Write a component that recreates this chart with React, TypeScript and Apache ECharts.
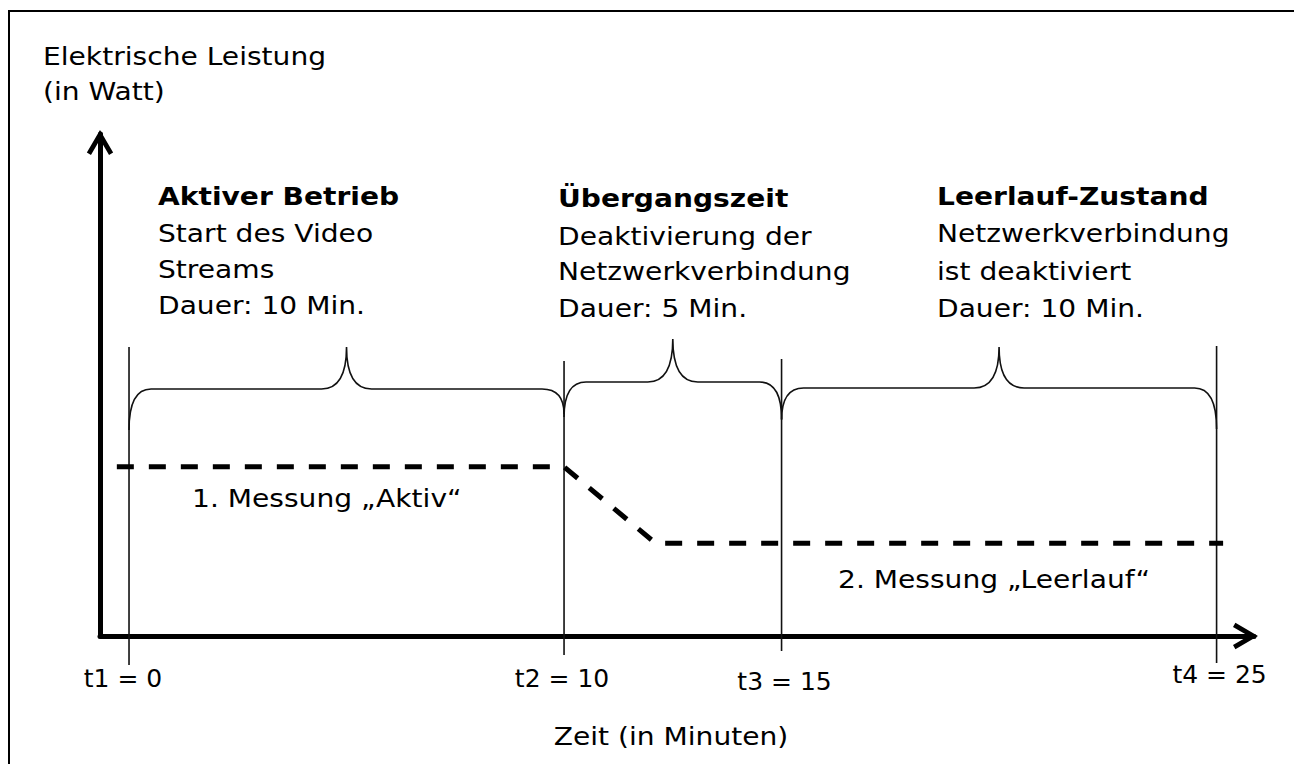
import React, { useEffect, useRef } from "react";
import * as echarts from "echarts";

// ---------- data ----------
const phaseBoundaries = [0, 10, 15, 25];
const boundaryLabels = ["t1 = 0", "t2 = 10", "t3 = 15", "t4 = 25"];
const phaseHeadings = ["Aktiver Betrieb", "Übergangszeit", "Leerlauf-Zustand"];
const phaseDescriptions = [
  ["Start des Video", "Streams", "Dauer: 10 Min."],
  ["Deaktivierung der", "Netzwerkverbindung", "Dauer: 5 Min."],
  ["Netzwerkverbindung", "ist deaktiviert", "Dauer: 10 Min."],
];
const powerTime = [-0.28, 10, 12.1, 25.15];
const powerValue = [33.7, 33.7, 18.5, 18.5];
const measurementLabels = ["1. Messung „Aktiv“", "2. Messung „Leerlauf“"];
const yAxisTitle = ["Elektrische Leistung", "(in Watt)"];
const xAxisTitle = "Zeit (in Minuten)";

// ---------- layout (pixels) ----------
const FONT = "'DejaVu Sans', sans-serif";
const FS = 25;
const SX = 1.125; // horizontal text stretch
const X_MIN = -0.667;
const X_MAX = 25.86;
const boundaryTop = [347, 361, 359, 346];
const boundaryBottom = [665, 655, 651, 663];
const boundaryLabelDx = [-6, -2, 3, 3];
const boundaryLabelMid = [678.5, 678.5, 681.5, 674.5];
const braceTip = [347, 339, 347];
const braceLevel = [389, 382, 388];
const braceEndL = [430, 417, 420];
const braceEndR = [414, 419, 429];
const blockLeft = [158, 558, 937];
const blockBaselines = [
  [205, 242, 278, 314],
  [207, 245, 280, 317],
  [205, 242, 280, 317],
];
const measurementPos = [
  [192, 507],
  [838, 588],
];
const MID = 9; // baseline -> middle offset

export default function App() {
  const ref = useRef<HTMLDivElement>(null);

  useEffect(() => {
    const chart = echarts.init(ref.current!, null, { renderer: "svg" });
    const arrowPath = "path://M12 0 L24.5 21.5 L20.6 23.8 L12 9 L3.4 23.8 L-0.5 21.5 Z";

    const txt = (text: string, x: number, baseline: number, align: string, bold = false) => ({
      type: "text",
      x,
      y: baseline - MID,
      scaleX: SX,
      style: {
        text,
        font: `${bold ? "bold " : ""}${FS}px ${FONT}`,
        fill: "#000",
        align,
        verticalAlign: "middle",
      },
    });

    const graphic: any[] = [
      {
        type: "rect",
        silent: true,
        shape: { x: 9, y: 11, width: 1400, height: 900 },
        style: { fill: "none", stroke: "#000", lineWidth: 2 },
      },
    ];
    yAxisTitle.forEach((t, i) => graphic.push(txt(t, 43, [65, 100][i], "left")));
    graphic.push(txt(xAxisTitle, 671, 745, "center"));
    phaseHeadings.forEach((h, i) => {
      graphic.push(txt(h, blockLeft[i], blockBaselines[i][0], "left", true));
      phaseDescriptions[i].forEach((line, j) => {
        graphic.push(txt(line, blockLeft[i], blockBaselines[i][j + 1], "left"));
      });
    });
    measurementLabels.forEach((m, i) => {
      graphic.push(txt(m, measurementPos[i][0], measurementPos[i][1], "left"));
    });

    const intervals = phaseBoundaries.slice(0, -1).map((t, i) => [t, phaseBoundaries[i + 1]]);

    chart.setOption({
      animation: false,
      backgroundColor: "#fff",
      grid: { left: 100, right: 40, top: 134, bottom: 128 },
      xAxis: {
        type: "value",
        min: X_MIN,
        max: X_MAX,
        axisLine: {
          show: true,
          onZero: true,
          symbol: ["none", arrowPath],
          symbolSize: [28, 25],
          symbolOffset: [0, -8.5],
          lineStyle: { color: "#000", width: 5 },
        },
        axisTick: { show: false },
        axisLabel: { show: false },
        splitLine: { show: false },
      },
      yAxis: {
        type: "value",
        min: 0,
        max: 100,
        axisLine: {
          show: true,
          onZero: false,
          symbol: ["none", arrowPath],
          symbolSize: [28, 25],
          symbolOffset: [0, -8.5],
          lineStyle: { color: "#000", width: 5 },
        },
        axisTick: { show: false },
        axisLabel: { show: false },
        splitLine: { show: false },
      },
      graphic,
      series: [
        {
          type: "line",
          data: powerTime.map((t, i) => [t, powerValue[i]]),
          showSymbol: false,
          symbol: "none",
          clip: false,
          silent: true,
          lineStyle: { color: "#000", width: 5, type: [17, 15], cap: "butt" },
          z: 4,
        },
        {
          type: "custom",
          clip: false,
          silent: true,
          z: 3,
          data: phaseBoundaries.map((t, i) => [t, i]),
          renderItem: (params: any, api: any) => {
            const i = params.dataIndex;
            const x = api.coord([api.value(0), 0])[0];
            return {
              type: "group",
              children: [
                {
                  type: "line",
                  shape: { x1: x, y1: boundaryTop[i], x2: x, y2: boundaryBottom[i] },
                  style: { stroke: "#111", lineWidth: 1.6 },
                },
                {
                  type: "text",
                  x: x + boundaryLabelDx[i],
                  y: boundaryLabelMid[i],
                  style: {
                    text: boundaryLabels[i],
                    font: `${FS}px ${FONT}`,
                    fill: "#000",
                    align: "center",
                    verticalAlign: "middle",
                  },
                },
              ],
            };
          },
        },
        {
          type: "custom",
          clip: false,
          silent: true,
          z: 3,
          data: intervals,
          renderItem: (params: any, api: any) => {
            const i = params.dataIndex;
            const x0 = api.coord([api.value(0), 0])[0];
            const x1 = api.coord([api.value(1), 0])[0];
            const xm = (x0 + x1) / 2;
            const yH = braceLevel[i];
            const yT = braceTip[i];
            const r = 22;
            const rm = 25;
            const d =
              `M${x0} ${braceEndL[i]} Q${x0} ${yH} ${x0 + r} ${yH} ` +
              `L${xm - rm} ${yH} Q${xm} ${yH} ${xm} ${yT} ` +
              `Q${xm} ${yH} ${xm + rm} ${yH} L${x1 - r} ${yH} ` +
              `Q${x1} ${yH} ${x1} ${braceEndR[i]}`;
            return {
              type: "path",
              shape: { pathData: d },
              style: { fill: "none", stroke: "#111", lineWidth: 1.6 },
            };
          },
        },
      ],
    });

    return () => chart.dispose();
  }, []);

  return (
    <div
      ref={ref}
      style={{ position: "fixed", left: 0, top: 0, width: 1294, height: 764, background: "#fff" }}
    />
  );
}
